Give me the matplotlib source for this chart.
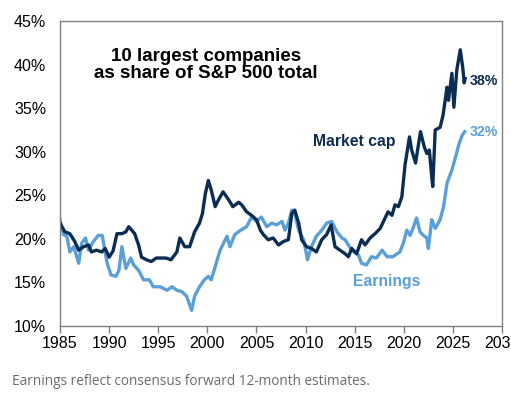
import matplotlib.pyplot as plt

plt.rcParams['font.family'] = ['Liberation Sans', 'DejaVu Sans']

# market cap share of top 10
mcap_years = [1985.0, 1985.5, 1986.0, 1986.5, 1986.9, 1987.4, 1987.9, 1988.2, 1988.7, 1989.25,
              1989.6, 1990.0, 1990.4, 1990.8, 1991.3, 1991.7, 1992.0, 1992.6, 1993.0, 1993.3,
              1993.8, 1994.3, 1994.8, 1995.3, 1995.8, 1996.3, 1996.9, 1997.2, 1997.7, 1998.2,
              1998.7, 1999.2, 1999.5, 1999.8, 2000.1, 2000.4, 2000.8, 2001.1, 2001.6, 2002.1,
              2002.6, 2003.2, 2003.5, 2004.0, 2004.5, 2005.0, 2005.4, 2005.7, 2006.2, 2006.7,
              2007.25, 2007.75, 2008.25, 2008.6, 2008.9, 2009.3, 2009.6, 2010.1, 2010.6, 2011.1,
              2011.65, 2012.15, 2012.6, 2013.0, 2013.5, 2014.02, 2014.36, 2014.7, 2015.2, 2015.7,
              2016.06, 2016.57, 2017.08, 2017.6, 2018.1, 2018.4, 2018.8, 2019.1, 2019.45, 2019.8,
              2020.13, 2020.58, 2020.8, 2021.2, 2021.7, 2022.1, 2022.35, 2022.6, 2022.85, 2022.95,
              2023.2, 2023.7, 2024.0, 2024.4, 2024.55, 2024.9, 2025.1, 2025.4, 2025.75, 2026.0,
              2026.15, 2026.25]
mcap = [21.8, 20.8, 20.6, 19.7, 18.7, 19.1, 19.3, 18.5, 18.7, 18.5,
        18.9, 17.9, 18.6, 20.6, 20.6, 20.8, 21.4, 20.6, 19.3, 17.9,
        17.6, 17.4, 17.8, 17.8, 17.8, 17.6, 18.5, 20.1, 19.1, 19.1,
        20.8, 21.8, 22.9, 25.2, 26.7, 25.6, 23.7, 24.4, 25.4, 24.6,
        23.7, 24.2, 23.9, 23.1, 22.7, 22.2, 21.0, 20.5, 19.9, 20.1,
        19.3, 19.7, 19.9, 22.9, 23.3, 21.8, 19.9, 19.1, 18.9, 18.5,
        19.9, 20.5, 21.6, 19.1, 18.7, 18.3, 17.95, 18.9, 18.3, 19.9,
        19.3, 20.1, 20.6, 21.2, 22.4, 23.1, 22.7, 23.9, 23.7, 24.8,
        28.5, 31.7, 30.2, 28.7, 32.3, 30.5, 29.8, 30.2, 27.1, 26.0,
        32.5, 32.8, 34.2, 37.4, 35.9, 39.0, 35.1, 39.4, 41.7, 39.7,
        37.9, 38.4]

# earnings share of top 10
earn_years = [1985.0, 1985.35, 1985.7, 1986.0, 1986.4, 1986.9, 1987.2, 1987.6, 1987.9, 1988.4,
              1988.9, 1989.3, 1989.5, 1989.8, 1990.2, 1990.7, 1991.0, 1991.3, 1991.7, 1992.2,
              1992.5, 1993.0, 1993.5, 1994.1, 1994.5, 1995.2, 1995.9, 1996.4, 1996.9, 1997.4,
              1997.9, 1998.4, 1998.7, 1999.2, 1999.7, 2000.1, 2000.4, 2000.8, 2001.3, 2002.0,
              2002.3, 2002.8, 2003.4, 2004.0, 2004.5, 2005.0, 2005.5, 2006.05, 2006.55, 2007.05,
              2007.6, 2007.9, 2008.25, 2008.6, 2008.9, 2009.3, 2009.8, 2010.2, 2010.6, 2011.1,
              2011.65, 2012.15, 2012.65, 2013.2, 2013.7, 2014.02, 2014.7, 2015.4, 2015.7, 2016.2,
              2016.7, 2017.2, 2017.8, 2018.3, 2018.9, 2019.6, 2019.96, 2020.3, 2020.65, 2021.0,
              2021.3, 2021.65, 2022.0, 2022.35, 2022.5, 2022.85, 2023.2, 2023.7, 2024.05, 2024.4,
              2024.9, 2025.25, 2025.6, 2025.95, 2026.2]
earn = [22.2, 20.5, 20.3, 18.5, 19.1, 17.2, 19.5, 20.1, 18.7, 19.7,
        20.4, 20.4, 19.1, 17.2, 15.85, 15.7, 16.4, 19.1, 16.6, 17.8,
        17.0, 16.4, 15.3, 15.3, 14.5, 14.5, 14.1, 14.5, 14.1, 13.95,
        13.4, 11.8, 13.4, 14.5, 15.3, 15.7, 15.3, 16.8, 18.7, 20.3,
        19.1, 20.5, 21.0, 21.4, 22.5, 22.0, 22.5, 21.4, 21.8, 21.6,
        22.0, 21.0, 21.8, 23.3, 22.9, 21.0, 19.9, 17.6, 19.1, 20.3,
        21.0, 21.8, 22.0, 20.8, 20.1, 19.9, 18.7, 18.1, 17.2, 17.0,
        17.95, 17.8, 18.7, 17.95, 17.95, 18.5, 19.5, 21.0, 20.4, 21.4,
        22.4, 20.8, 20.4, 20.1, 18.9, 22.2, 21.2, 22.2, 23.7, 26.4,
        27.9, 29.3, 30.8, 31.9, 32.3]

yticks = [10, 15, 20, 25, 30, 35, 40, 45]
xticks = [1985, 1990, 1995, 2000, 2005, 2010, 2015, 2020, 2025, 2030]

navy = '#0b2d52'
light = '#5a9fd8'

fig = plt.figure(figsize=(5.11, 3.96), dpi=100)
ax = fig.add_axes([60/511, 70/396, 442/511, 305/396])

ax.plot(earn_years, earn, color=light, lw=2.4, solid_joinstyle='round')
ax.plot(mcap_years, mcap, color=navy, lw=2.4, solid_joinstyle='round')

ax.set_xlim(1985, 2030)
ax.set_ylim(10, 45)
ax.set_xticks(xticks)
ax.set_xticklabels([str(x) for x in xticks], fontsize=11.5)
ax.set_yticks(yticks)
ax.set_yticklabels([f'{y}%' for y in yticks], fontsize=11.5)
ax.tick_params(axis='y', length=0, pad=10)
ax.tick_params(axis='x', length=5, width=1, color='#808080', direction='out', pad=2)
for s in ax.spines.values():
    s.set_color('#808080')
    s.set_linewidth(1)

fig.text(206/511, 1 - 65/396, '10 largest companies\nas share of S&P 500 total',
         ha='center', va='center', fontsize=13.5, fontweight='bold', linespacing=1.05)

ax.text(2010.76, 30.66, 'Market cap', color=navy, fontsize=11.3, fontweight='bold', va='baseline')
ax.text(2014.8, 14.6, 'Earnings', color=light, fontsize=11.3, fontweight='bold', va='baseline')
ax.text(2026.75, 37.66, '38%', color=navy, fontsize=10.2, fontweight='bold', va='baseline')
ax.text(2026.75, 31.8, '32%', color=light, fontsize=10.2, fontweight='bold', va='baseline')

fig.text(12/511, 1 - 385/396, 'Earnings reflect consensus forward 12-month estimates.',
         family=['Open Sans', 'DejaVu Sans'], fontsize=9.8, color='#6b6b6b', va='baseline')

fig.savefig('out.png', dpi=100)
